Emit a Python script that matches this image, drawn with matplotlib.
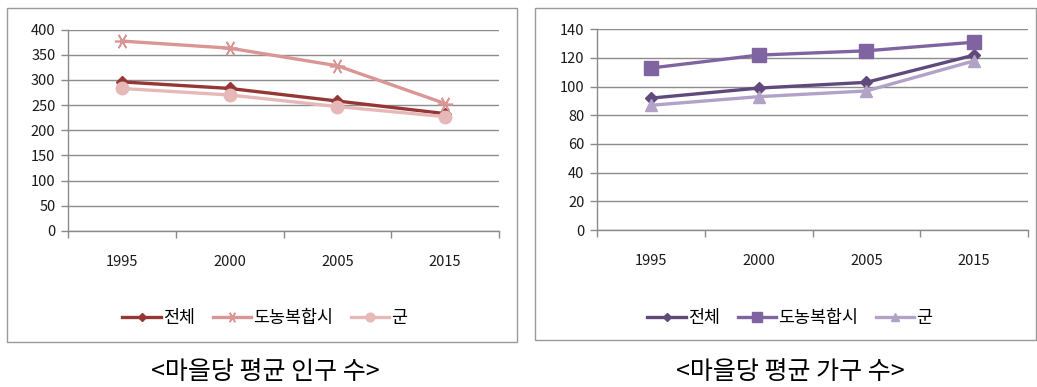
import matplotlib
matplotlib.use("Agg")
import matplotlib.pyplot as plt
from matplotlib.patches import Rectangle

plt.rcParams['font.family'] = ['Noto Sans CJK KR', 'DejaVu Sans']

years = ["1995", "2000", "2005", "2015"]
series_names = ["전체", "도농복합시", "군"]

# 마을당 평균 인구 수
pop_total = [296, 283, 258, 233]
pop_urban = [377, 363, 328, 253]
pop_gun = [283, 270, 247, 227]

# 마을당 평균 가구 수
hh_total = [92, 99, 103, 122]
hh_urban = [113, 122, 125, 131]
hh_gun = [87, 93, 97, 118]

caption_left = "<마을당 평균 인구 수>"
caption_right = "<마을당 평균 가구 수>"

W, H = 1037, 387
fig = plt.figure(figsize=(W / 100, H / 100), dpi=100)


def fx(px):
    return px / W


def fy(py):
    return 1 - py / H


# outer boxes
for (x0, x1, y0, y1) in [(7, 517, 8, 342), (535, 1036, 8, 340)]:
    fig.patches.append(Rectangle((fx(x0), fy(y1)), fx(x1 - x0), (y1 - y0) / H,
                                 transform=fig.transFigure, fill=False,
                                 edgecolor="#9a9a9a", linewidth=1.0))

STAR = (6, 2, 90)


def make_axes(l, r, t, b, ymax, ystep, data, colors, markers, msizes, leg_center, cap_center, caption):
    ax = fig.add_axes([fx(l), fy(b), fx(r - l), (b - t) / H])
    x = list(range(len(years)))
    handles = []
    for vals, c, m, ms, name in zip(data, colors, markers, msizes, series_names):
        kw = dict(color=c, linewidth=2.4, marker=m, markersize=ms, label=name,
                  markerfacecolor=c, markeredgecolor=c)
        if m == STAR:
            kw['markeredgewidth'] = 1.2
        h, = ax.plot(x, vals, **kw)
        handles.append(h)
    ax.set_xlim(-0.5, len(years) - 0.5)
    ax.set_ylim(0, ymax)
    ax.set_yticks(range(0, ymax + 1, ystep))
    ax.set_xticks(x)
    ax.set_xticklabels(years, fontsize=10.5)
    ax.set_xticks([i - 0.5 for i in range(len(years) + 1)], minor=True)
    ax.tick_params(axis='x', which='major', length=0, pad=17, colors="#1a1a1a")
    ax.tick_params(axis='x', which='minor', length=5, width=1, color="#8a8a8a", direction='out')
    ax.tick_params(axis='y', length=5, width=1, color="#8a8a8a", pad=4, labelsize=10.5, labelcolor="#1a1a1a")
    ax.grid(axis='y', color="#8c8c8c", linewidth=1.0)
    ax.set_axisbelow(True)
    for s in ['top', 'right']:
        ax.spines[s].set_visible(False)
    for s in ['left', 'bottom']:
        ax.spines[s].set_color("#8a8a8a")
        ax.spines[s].set_linewidth(1.0)
    fig.legend(handles=handles, loc='center', bbox_to_anchor=(fx(leg_center), fy(318)),
               ncol=3, frameon=False, fontsize=12.5, handlelength=2.2,
               handletextpad=0.15, columnspacing=1.0, markerscale=0.7)
    fig.text(fx(cap_center), fy(372), caption, ha='center', va='center', fontsize=18)
    return ax


make_axes(68, 499, 29.5, 231, 400, 50,
          [pop_total, pop_urban, pop_gun],
          ["#953735", "#D99694", "#E6B9B8"],
          ["D", STAR, "o"], [6, 11, 9],
          265, 265, caption_left)

make_axes(597, 1028, 29.3, 230, 140, 20,
          [hh_total, hh_urban, hh_gun],
          ["#604A7B", "#8064A2", "#B3A2C7"],
          ["D", "s", "^"], [6, 10, 9],
          790, 790, caption_right)

fig.savefig("out.png", dpi=100)
